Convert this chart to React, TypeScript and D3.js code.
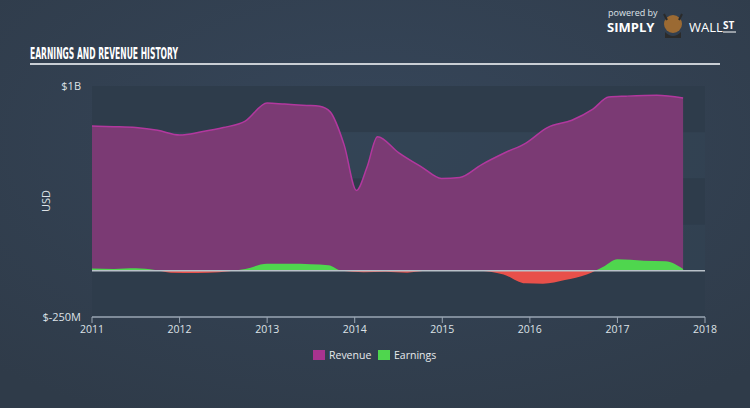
import React from "react";
import * as d3 from "d3";

const revDates = [2011.0, 2011.25, 2011.5, 2011.75, 2012.0, 2012.25, 2012.5, 2012.75, 2013.0, 2013.2, 2013.45, 2013.6, 2013.72, 2013.88, 2014.02, 2014.14, 2014.26, 2014.5, 2014.77, 2014.99, 2015.2, 2015.45, 2015.72, 2015.95, 2016.2, 2016.48, 2016.72, 2016.9, 2017.1, 2017.45, 2017.75];
const revValues = [783, 780, 775, 760, 735, 752, 775, 810, 908, 902, 895, 890, 860, 680, 435, 560, 726, 640, 560, 500, 505, 575, 640, 690, 775, 815, 875, 940, 945, 950, 935];

const earnDates = [2011.0, 2011.25, 2011.5, 2011.72, 2011.9, 2012.2, 2012.45, 2012.75, 2013.0, 2013.25, 2013.5, 2013.7, 2013.85, 2014.1, 2014.35, 2014.6, 2014.8, 2015.05, 2015.4, 2015.7, 2015.95, 2016.15, 2016.4, 2016.65, 2016.85, 2017.0, 2017.3, 2017.55, 2017.75];
const earnValues = [12, 10, 14, 5, -10, -12, -8, 10, 38, 38, 36, 30, 0, -8, -5, -10, 0, 5, 2, -20, -68, -70, -50, -20, 25, 62, 55, 52, 10];

const yTicks = [1000, -250];
const xTicks = [2011, 2012, 2013, 2014, 2015, 2016, 2017, 2018];
const bandEdges = [1000, 750, 500, 250, 0, -250];

export default function App() {
  const W = 750, H = 408;
  const x = d3.scaleLinear().domain([2011, 2018]).range([92, 705]);
  const y = d3.scaleLinear().domain([-250, 1000]).range([317, 86]);
  const y0 = y(0);

  const rev = revDates.map((d, i) => ({ d, v: revValues[i] }));
  const earn = earnDates.map((d, i) => ({ d, v: earnValues[i] }));

  const curve = d3.curveMonotoneX;
  const revArea = d3.area<{ d: number; v: number }>().x(p => x(p.d)).y0(y0).y1(p => y(p.v)).curve(curve);
  const revLine = d3.line<{ d: number; v: number }>().x(p => x(p.d)).y(p => y(p.v)).curve(curve);
  const earnArea = d3.area<{ d: number; v: number }>().x(p => x(p.d)).y0(y0).y1(p => y(p.v)).curve(curve);

  const font = "'Open Sans', 'DejaVu Sans', sans-serif";

  return (
    <svg width={W} height={H} style={{ position: "absolute", left: 0, top: 0 }}>
      <defs>
        <radialGradient id="bg" cx="50%" cy="35%" r="75%">
          <stop offset="0%" stopColor="#36465a" />
          <stop offset="100%" stopColor="#2f3b49" />
        </radialGradient>
        <clipPath id="above"><rect x={0} y={0} width={W} height={y0} /></clipPath>
        <clipPath id="below"><rect x={0} y={y0} width={W} height={H - y0} /></clipPath>
      </defs>
      <rect width={W} height={H} fill="url(#bg)" />

      {/* header */}
      <text x={30} y={59} fill="#ffffff" fontFamily="'DejaVu Sans', sans-serif" fontWeight="bold" fontSize={16} textLength={148} lengthAdjust="spacingAndGlyphs">EARNINGS AND REVENUE HISTORY</text>
      <line x1={30} x2={720} y1={64} y2={64} stroke="#c9ced4" strokeWidth={2} />

      {/* logo */}
      <text x={608} y={16} fill="#dfe3e8" fontFamily={font} fontSize={9}>powered by</text>
      <text x={607} y={32} fill="#ffffff" fontFamily={font} fontWeight="bold" fontSize={13}>SIMPLY</text>
      <circle cx={673} cy={24} r={9} fill="#9b6a33" />
      <path d="M664,14 L667,20 M682,14 L679,20" stroke="#2a2a2a" strokeWidth={2} />
      <path d="M665,32 Q673,40 681,32 L681,38 L665,38 Z" fill="#2b2b2b" />
      <text x={689} y={32} fill="#ffffff" fontFamily={font} fontSize={13}>WALL</text>
      <text x={723} y={29} fill="#ffffff" fontFamily={font} fontWeight="bold" fontSize={10}>ST</text>
      <line x1={723} x2={736} y1={32} y2={32} stroke="#fff" strokeWidth={1} />

      {/* bands */}
      {bandEdges.slice(0, -1).map((b, i) => (
        <rect key={b} x={92} width={613} y={y(b)} height={y(bandEdges[i + 1]) - y(b)} fill={i % 2 === 0 ? "#2e3c4b" : "#33435393"} />
      ))}

      {/* revenue */}
      <path d={revArea(rev) || ""} fill="#7b3a74" />
      <path d={revLine(rev) || ""} fill="none" stroke="#b2389e" strokeWidth={1.5} />

      {/* earnings */}
      <path d={earnArea(earn) || ""} fill="#4fd64e" clipPath="url(#above)" />
      <path d={earnArea(earn) || ""} fill="#e8504a" clipPath="url(#below)" />

      <line x1={92} x2={705} y1={y0} y2={y0} stroke="#b9c1c9" strokeWidth={1.5} />

      {/* y axis labels */}
      {yTicks.map(t => (
        <text key={t} x={81} y={y(t) + 4} textAnchor="end" fill="#dde2e7" fontFamily={font} fontSize={11}>
          {t === 1000 ? "$1B" : "$-250M"}
        </text>
      ))}
      <text transform={`translate(50,${201}) rotate(-90)`} textAnchor="middle" fill="#dde2e7" fontFamily={font} fontSize={11}>USD</text>

      {/* x axis */}
      <line x1={92} x2={705} y1={317} y2={317} stroke="#9aa6b3" strokeWidth={1.5} />
      {xTicks.map(t => (
        <g key={t}>
          <line x1={x(t)} x2={x(t)} y1={317} y2={323} stroke="#9aa6b3" strokeWidth={1} />
          <text x={x(t)} y={333} textAnchor="middle" fill="#dde2e7" fontFamily={font} fontSize={10.5}>{t}</text>
        </g>
      ))}

      {/* legend */}
      <rect x={313} y={350} width={12} height={10} fill="#a8338f" />
      <text x={329} y={359} fill="#e6e9ec" fontFamily={font} fontSize={10.5}>Revenue</text>
      <rect x={378} y={350} width={12} height={10} fill="#4fd64e" />
      <text x={394} y={359} fill="#e6e9ec" fontFamily={font} fontSize={10.5}>Earnings</text>
    </svg>
  );
}
